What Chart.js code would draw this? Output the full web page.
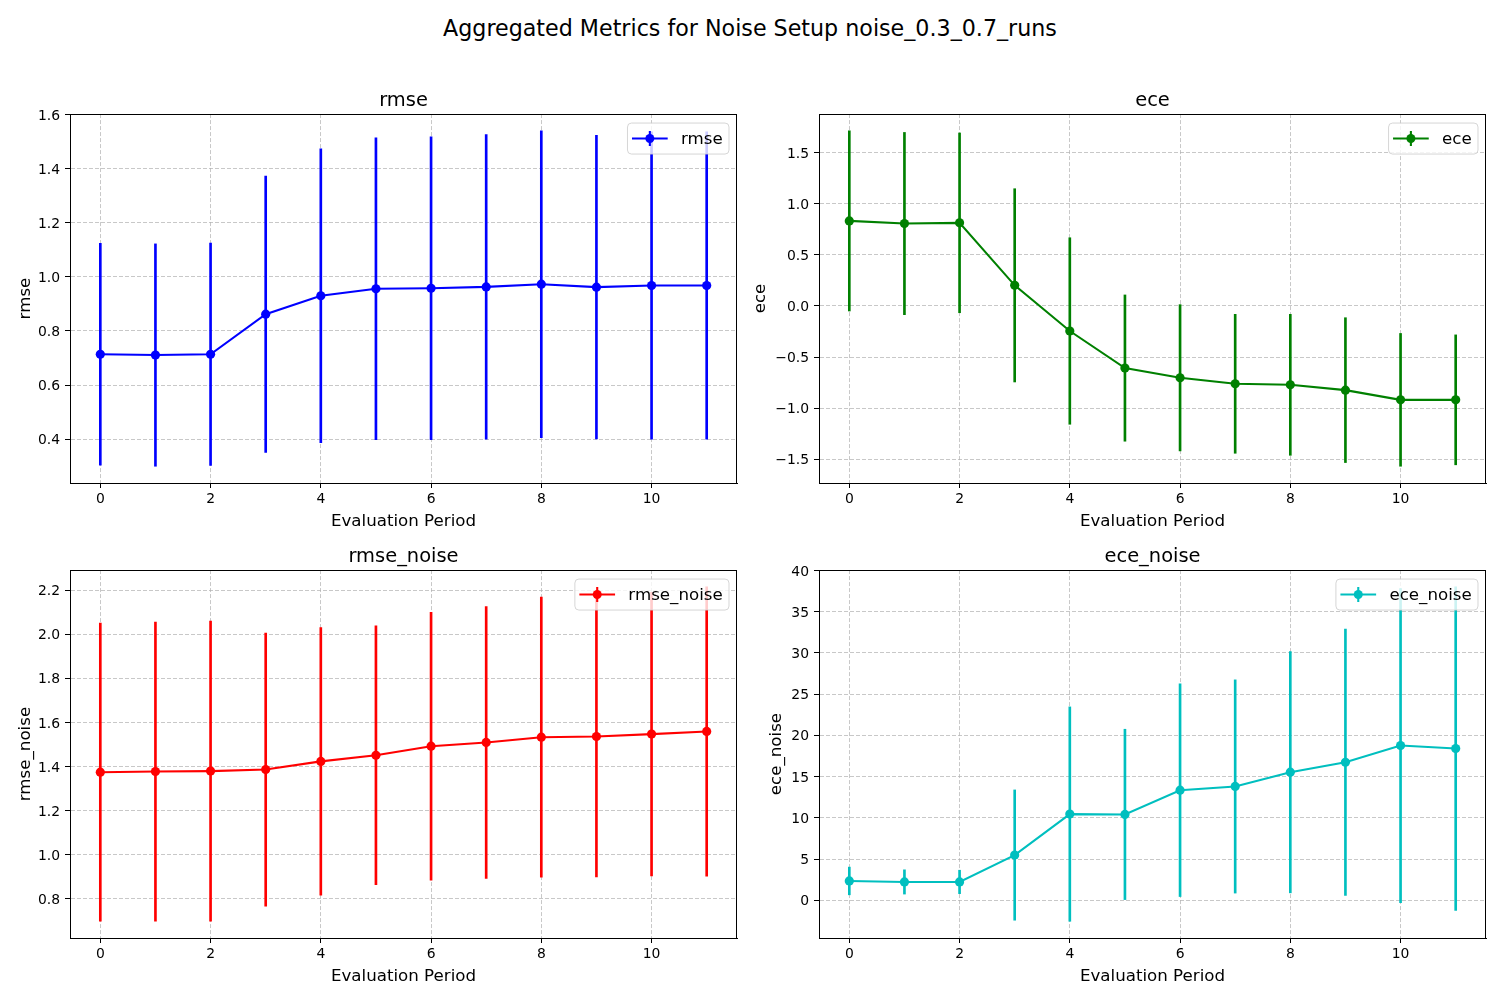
<!DOCTYPE html>
<html>
<head>
<meta charset="utf-8">
<title>Aggregated Metrics for Noise Setup noise_0.3_0.7_runs</title>
<script src="https://cdn.jsdelivr.net/npm/chart.js@4.4.0/dist/chart.umd.min.js"></script>
<style>
  html, body { margin: 0; padding: 0; background: #fff; }
  #page { position: relative; width: 1500px; height: 1000px; overflow: hidden; font-family: 'DejaVu Sans', sans-serif; }
  #suptitle { position: absolute; left: 0; top: 15px; width: 1500px; text-align: center; font-size: 22.2px; line-height: 26px; color: #000; }
  canvas { position: absolute; }
</style>
</head>
<body>
<div id="page">
  <div id="suptitle">Aggregated Metrics for Noise Setup noise_0.3_0.7_runs</div>
  <canvas id="c_rmse" width="750" height="459" style="left:0px;top:74px;width:750px;height:459px"></canvas>
  <canvas id="c_ece" width="750" height="459" style="left:749px;top:74px;width:750px;height:459px"></canvas>
  <canvas id="c_rmse_noise" width="750" height="458" style="left:0px;top:530px;width:750px;height:458px"></canvas>
  <canvas id="c_ece_noise" width="750" height="458" style="left:749px;top:530px;width:750px;height:458px"></canvas>
</div>
<script>
// evaluation periods and x tick labels
const periods = [0, 1, 2, 3, 4, 5, 6, 7, 8, 9, 10, 11];
const xTicks = [0, 2, 4, 6, 8, 10];

// mean and std per period
const rmseMean = [0.714, 0.711, 0.714, 0.862, 0.930, 0.956, 0.958, 0.963, 0.973, 0.962, 0.968, 0.968];
const rmseStd  = [0.410, 0.411, 0.411, 0.511, 0.543, 0.558, 0.560, 0.563, 0.567, 0.561, 0.568, 0.568];

const eceMean = [0.833, 0.807, 0.814, 0.202, -0.245, -0.608, -0.703, -0.762, -0.772, -0.824, -0.919, -0.919];
const eceStd  = [0.882, 0.892, 0.880, 0.946, 0.913, 0.716, 0.716, 0.680, 0.690, 0.709, 0.650, 0.636];

const rmseNoiseMean = [1.374, 1.377, 1.379, 1.386, 1.423, 1.451, 1.492, 1.509, 1.533, 1.536, 1.547, 1.559];
const rmseNoiseStd  = [0.677, 0.679, 0.681, 0.620, 0.608, 0.588, 0.608, 0.617, 0.636, 0.638, 0.644, 0.657];

const eceNoiseMean = [2.34, 2.22, 2.22, 5.48, 10.45, 10.41, 13.35, 13.80, 15.53, 16.74, 18.76, 18.40];
const eceNoiseStd  = [1.68, 1.47, 1.42, 7.90, 13.00, 10.33, 12.90, 12.93, 14.63, 16.15, 19.05, 19.62];

const FONT = "'DejaVu Sans', sans-serif";

// black box round the plot area, like the matplotlib spines
const framePlugin = {
    id: 'frame',
    afterDraw(chart) {
        const a = chart.chartArea;
        const ctx = chart.ctx;
        ctx.save();
        ctx.strokeStyle = '#000';
        ctx.lineWidth = 1;
        ctx.strokeRect(Math.round(a.left) + 0.5, Math.round(a.top) + 0.5,
                       Math.round(a.right - a.left) - 1, Math.round(a.bottom - a.top));
        ctx.restore();
    }
};

// legend box in the upper right corner of the axes
const legendPlugin = {
    id: 'mplLegend',
    afterDatasetsDraw(chart) {
        const a = chart.chartArea;
        const ctx = chart.ctx;
        const ds = chart.data.datasets[0];
        ctx.save();
        ctx.font = '16.67px ' + FONT;
        const tw = ctx.measureText(ds.label).width;
        const w = 4.5 + 35.7 + 13.3 + tw + 6.3;
        const h = 31;
        const x = a.right - 8 - w;
        const y = a.top + 9;
        ctx.beginPath();
        if (ctx.roundRect) ctx.roundRect(x, y, w, h, 4); else ctx.rect(x, y, w, h);
        ctx.fillStyle = 'rgba(255,255,255,0.8)';
        ctx.fill();
        ctx.strokeStyle = 'rgba(204,204,204,0.8)';
        ctx.lineWidth = 1;
        ctx.stroke();

        const cy = y + h / 2;
        const hx0 = x + 4.5, hx1 = hx0 + 35.7, mx = (hx0 + hx1) / 2;
        ctx.strokeStyle = ds.borderColor;
        ctx.lineWidth = 2.08;
        ctx.beginPath();
        ctx.moveTo(hx0, cy); ctx.lineTo(hx1, cy);
        ctx.moveTo(mx, cy - 7.5); ctx.lineTo(mx, cy + 7.5);
        ctx.stroke();
        ctx.fillStyle = ds.borderColor;
        ctx.beginPath();
        ctx.arc(mx, cy, 4.5, 0, Math.PI * 2);
        ctx.fill();

        ctx.fillStyle = '#000';
        ctx.textBaseline = 'middle';
        ctx.textAlign = 'left';
        ctx.fillText(ds.label, hx1 + 13.3, cy + 1);
        ctx.restore();
    }
};

function makeChart(canvasId, name, color, means, stds, step, decimals, yTitlePad) {
    const lo = means.map((m, i) => m - stds[i]);
    const hi = means.map((m, i) => m + stds[i]);
    // matplotlib autoscale: 5% margin round the data
    const dmin = Math.min(...lo), dmax = Math.max(...hi);
    const pad = (dmax - dmin) * 0.05;

    const ctx = document.getElementById(canvasId).getContext('2d');
    return new Chart(ctx, {
        type: 'line',
        data: {
            datasets: [{
                type: 'line',
                label: name,
                data: periods.map((p, i) => ({x: p, y: means[i]})),
                borderColor: color,
                backgroundColor: color,
                borderWidth: 2.08,
                pointRadius: 4.6,
                pointHoverRadius: 4.6,
                pointBorderWidth: 0,
                pointBackgroundColor: color,
                tension: 0,
                fill: false,
                order: 0
            }, {
                type: 'bar',
                label: name + ' std',
                data: periods.map((p, i) => ({x: p, y: [lo[i], hi[i]]})),
                backgroundColor: color,
                borderWidth: 0,
                barThickness: 2,
                order: 1
            }]
        },
        options: {
            responsive: false,
            animation: false,
            devicePixelRatio: 1,
            events: [],
            layout: { padding: { left: 0, top: 0, right: 13, bottom: 0 } },
            plugins: {
                legend: { display: false },
                tooltip: { enabled: false },
                title: {
                    display: true,
                    text: name,
                    fullSize: false,
                    color: '#000',
                    font: { family: FONT, size: 19.44, weight: 'normal', lineHeight: 1.2 },
                    padding: { top: 15.5, bottom: 1.22 }
                }
            },
            scales: {
                x: {
                    type: 'linear',
                    min: -0.55,
                    max: 11.55,
                    offset: false,
                    afterBuildTicks: s => { s.ticks = xTicks.map(v => ({value: v})); },
                    afterFit: s => { s.height = 50; },
                    ticks: {
                        color: '#000',
                        padding: 3,
                        maxRotation: 0,
                        font: { family: FONT, size: 13.9 },
                        callback: v => String(v)
                    },
                    grid: {
                        offset: false,
                        color: 'rgba(176,176,176,0.7)',
                        lineWidth: 1,
                        tickColor: '#000',
                        tickLength: 5,
                        tickWidth: 1
                    },
                    border: { display: true, color: '#000', width: 1, dash: [4, 2] },
                    title: {
                        display: true,
                        text: 'Evaluation Period',
                        color: '#000',
                        font: { family: FONT, size: 16.67, lineHeight: 1.2 },
                        padding: { top: 0, bottom: 1 }
                    }
                },
                y: {
                    type: 'linear',
                    min: dmin - pad,
                    max: dmax + pad,
                    afterFit: s => { s.width = 70; },
                    ticks: {
                        stepSize: step,
                        includeBounds: false,
                        color: '#000',
                        padding: 5,
                        labelOffset: 1.5,
                        font: { family: FONT, size: 13.9 },
                        callback: v => Number(v).toFixed(decimals).replace('-', '\u2212')
                    },
                    grid: {
                        color: 'rgba(176,176,176,0.7)',
                        lineWidth: 1,
                        tickColor: '#000',
                        tickLength: 5,
                        tickWidth: 1
                    },
                    border: { display: true, color: '#000', width: 1, dash: [4, 2] },
                    title: {
                        display: true,
                        text: name,
                        color: '#000',
                        font: { family: FONT, size: 16.67, lineHeight: 1.2 },
                        padding: { top: yTitlePad, bottom: 0 }
                    }
                }
            }
        },
        plugins: [framePlugin, legendPlugin]
    });
}

makeChart('c_rmse', 'rmse', '#0000ff', rmseMean, rmseStd, 0.2, 1, 16);
makeChart('c_ece', 'ece', '#008000', eceMean, eceStd, 0.5, 1, 2);
makeChart('c_rmse_noise', 'rmse_noise', '#ff0000', rmseNoiseMean, rmseNoiseStd, 0.2, 1, 16);
makeChart('c_ece_noise', 'ece_noise', '#00bfbf', eceNoiseMean, eceNoiseStd, 5, 0, 17.7);
</script>
</body>
</html>
